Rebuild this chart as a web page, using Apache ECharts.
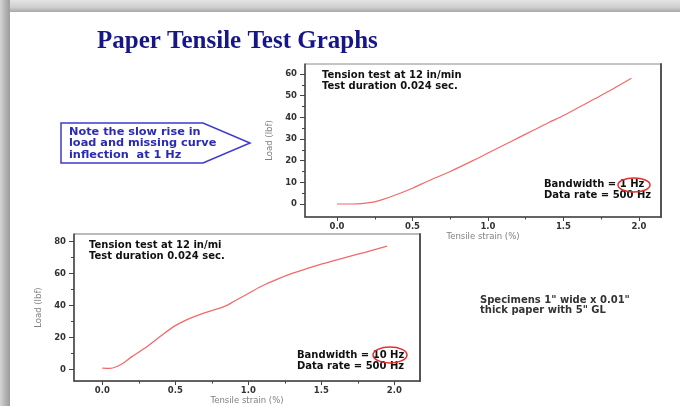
<!DOCTYPE html>
<html>
<head>
<meta charset="utf-8">
<script src="https://cdn.jsdelivr.net/npm/echarts@6/dist/echarts.min.js"></script>
<style>
  html, body { margin: 0; padding: 0; background: #fff; }
  #main { width: 680px; height: 406px; }
</style>
</head>
<body>
<div id="main"></div>
<script>
// top chart: bandwidth 1 Hz
var topStrain = [0, 0.1, 0.2, 0.25, 0.3, 0.4, 0.5, 0.6, 0.75, 0.9, 1.0, 1.1, 1.2, 1.3, 1.4, 1.5, 1.6, 1.7, 1.8, 1.95];
var topLoad = [0, 0, 0.5, 1, 2, 4.5, 7.3, 10.5, 15, 20, 23.5, 27, 30.5, 34, 37.5, 40.8, 44.5, 48.3, 52, 58];
// bottom chart: bandwidth 10 Hz
var botStrain = [0, 0.05, 0.1, 0.15, 0.2, 0.3, 0.4, 0.5, 0.6, 0.7, 0.8, 0.85, 0.9, 1.0, 1.1, 1.2, 1.3, 1.4, 1.5, 1.6, 1.7, 1.8, 1.95];
var botLoad = [1, 0.8, 2, 4.5, 8, 14, 21, 27.5, 32, 35.5, 38.3, 40, 42.5, 47.5, 52.5, 56.5, 60, 63, 65.8, 68.3, 70.8, 73.2, 77];

var strainTicks = [0, 0.5, 1.0, 1.5, 2.0];
var strainMinor = [0.25, 0.75, 1.25, 1.75];
var topLoadTicks = [0, 10, 20, 30, 40, 50, 60];
var topLoadMinor = [5, 15, 25, 35, 45, 55];
var botLoadTicks = [0, 20, 40, 60, 80];
var botLoadMinor = [10, 30, 50, 70];

function pairs(xs, ys) {
    var out = [];
    for (var i = 0; i < xs.length; i++) out.push([xs[i], ys[i]]);
    return out;
}

var axisColor = '#444';
var labelStyle = { color: '#333', fontSize: 8.5, fontWeight: 'bold', fontFamily: 'DejaVu Sans' };
var nameStyle = { color: '#808080', fontSize: 8.5, fontFamily: 'DejaVu Sans' };
var noteFont = 'bold 10px "DejaVu Sans"';

function mainX(grid, min, max, gap) {
    return {
        gridIndex: grid, type: 'value', min: min, max: max, position: 'bottom',
        name: 'Tensile strain (%)', nameLocation: 'middle', nameGap: gap, nameTextStyle: nameStyle,
        axisLine: { show: true, onZero: false, lineStyle: { color: axisColor, width: 1.5 } },
        axisTick: { show: false },
        axisLabel: Object.assign({ customValues: strainTicks, margin: 5, formatter: function (v) { return v.toFixed(1); } }, labelStyle),
        splitLine: { show: false }
    };
}
// tick-only overlay axis
function tickX(grid, min, max, ticks, len) {
    return {
        gridIndex: grid, type: 'value', min: min, max: max, position: 'bottom',
        axisLine: { show: false, onZero: false },
        axisTick: { show: true, length: len, customValues: ticks, lineStyle: { color: axisColor } },
        axisLabel: { show: false }, splitLine: { show: false }
    };
}
function mainY(grid, min, max, ticks, gap) {
    return {
        gridIndex: grid, type: 'value', min: min, max: max, position: 'left',
        name: 'Load (lbf)', nameLocation: 'middle', nameGap: gap, nameTextStyle: nameStyle,
        axisLine: { show: true, onZero: false, lineStyle: { color: axisColor, width: 1.5 } },
        axisTick: { show: false },
        axisLabel: Object.assign({ customValues: ticks, margin: 8 }, labelStyle),
        splitLine: { show: false }
    };
}
function tickY(grid, min, max, ticks, len) {
    return {
        gridIndex: grid, type: 'value', min: min, max: max, position: 'left',
        axisLine: { show: false, onZero: false },
        axisTick: { show: true, length: len, customValues: ticks, lineStyle: { color: axisColor } },
        axisLabel: { show: false }, splitLine: { show: false }
    };
}
function frameY(grid, min, max) {
    return {
        gridIndex: grid, type: 'value', min: min, max: max, position: 'right',
        axisLine: { show: true, onZero: false, lineStyle: { color: '#555', width: 2 } },
        axisTick: { show: false }, axisLabel: { show: false }, splitLine: { show: false }
    };
}

var chart = echarts.init(document.getElementById('main'));
var option = {
    animation: false,
    backgroundColor: '#fff',
    grid: [
        { left: 305, top: 64, width: 356, height: 153, show: true, borderColor: '#8a8a8a', borderWidth: 1 },
        { left: 74, top: 234, width: 346, height: 148, show: true, borderColor: '#777', borderWidth: 1 }
    ],
    xAxis: [
        mainX(0, -0.212, 2.146, 14),
        tickX(0, -0.212, 2.146, strainTicks, 4),
        tickX(0, -0.212, 2.146, strainMinor, 2.5),
        mainX(1, -0.194, 2.176, 13),
        tickX(1, -0.194, 2.176, strainTicks, 4),
        tickX(1, -0.194, 2.176, strainMinor, 2.5)
    ],
    yAxis: [
        mainY(0, -6, 64.6, topLoadTicks, 31),
        tickY(0, -6, 64.6, topLoadTicks, 5),
        tickY(0, -6, 64.6, topLoadMinor, 3),
        frameY(0, -6, 64.6),
        mainY(1, -7.1, 84.6, botLoadTicks, 31),
        tickY(1, -7.1, 84.6, botLoadTicks, 5),
        tickY(1, -7.1, 84.6, botLoadMinor, 3),
        frameY(1, -7.1, 84.6)
    ],
    series: [
        {
            name: '1 Hz', type: 'line', xAxisIndex: 0, yAxisIndex: 0,
            data: pairs(topStrain, topLoad), smooth: 0.3, showSymbol: false,
            lineStyle: { color: '#f26a6a', width: 1.2 }
        },
        {
            name: '10 Hz', type: 'line', xAxisIndex: 3, yAxisIndex: 4,
            data: pairs(botStrain, botLoad), smooth: 0.3, showSymbol: false,
            lineStyle: { color: '#f26a6a', width: 1.3 }
        }
    ],
    graphic: [
        // slide shadow
        { type: 'rect', shape: { x: 0, y: 0, width: 680, height: 12 }, silent: true,
          style: { fill: new echarts.graphic.LinearGradient(0, 0, 0, 1, [
              { offset: 0, color: '#e4e4e4' }, { offset: 0.6, color: '#cfcfcf' }, { offset: 1, color: '#a9a9a9' }]) } },
        { type: 'rect', shape: { x: 0, y: 0, width: 10, height: 406 }, silent: true,
          style: { fill: new echarts.graphic.LinearGradient(0, 0, 1, 0, [
              { offset: 0, color: '#d6d6d6' }, { offset: 0.5, color: '#b5b5b5' }, { offset: 1, color: '#9c9c9c' }]) } },
        // title
        { type: 'text', left: 97, top: 29, silent: true,
          style: { text: 'Paper Tensile Test Graphs', fill: '#16168a', font: 'bold 25px "Liberation Serif"' } },
        // callout
        { type: 'polygon', silent: true,
          shape: { points: [[61, 123], [203, 123], [250, 143], [203, 163], [61, 163]] },
          style: { fill: '#fff', stroke: '#3b3bcf', lineWidth: 1.5 } },
        { type: 'text', left: 69, top: 126, silent: true,
          style: { text: 'Note the slow rise in\nload and missing curve\ninflection  at 1 Hz',
                   fill: '#2a2ab4', font: 'bold 11.3px "DejaVu Sans"', lineHeight: 11.7 } },
        // top chart notes
        { type: 'text', left: 322, top: 70, silent: true,
          style: { text: 'Tension test at 12 in/min\nTest duration 0.024 sec.', fill: '#111', font: noteFont, lineHeight: 10.8 } },
        { type: 'text', left: 544, top: 179, silent: true,
          style: { text: 'Bandwidth = 1 Hz\nData rate = 500 Hz', fill: '#111', font: noteFont, lineHeight: 11.2 } },
        { type: 'ellipse', silent: true, shape: { cx: 634, cy: 185, rx: 16, ry: 7 },
          style: { fill: 'none', stroke: '#e03030', lineWidth: 1.5 } },
        // bottom chart notes
        { type: 'text', left: 89, top: 240, silent: true,
          style: { text: 'Tension test at 12 in/min\nTest duration 0.024 sec.', fill: '#111', font: noteFont, lineHeight: 10.8,
                   width: 139, overflow: 'truncate', ellipsis: '' } },
        { type: 'text', left: 297, top: 350, silent: true,
          style: { text: 'Bandwidth = 10 Hz\nData rate = 500 Hz', fill: '#111', font: noteFont, lineHeight: 11.2 } },
        { type: 'ellipse', silent: true, shape: { cx: 390, cy: 355, rx: 17, ry: 8 },
          style: { fill: 'none', stroke: '#e03030', lineWidth: 1.5 } },
        // specimen note
        { type: 'text', left: 480, top: 295, silent: true,
          style: { text: 'Specimens 1" wide x 0.01"\nthick paper with 5" GL', fill: '#333', font: 'bold 10px "DejaVu Sans"', lineHeight: 10.5 } }
    ]
};
chart.setOption(option);
</script>
</body>
</html>
